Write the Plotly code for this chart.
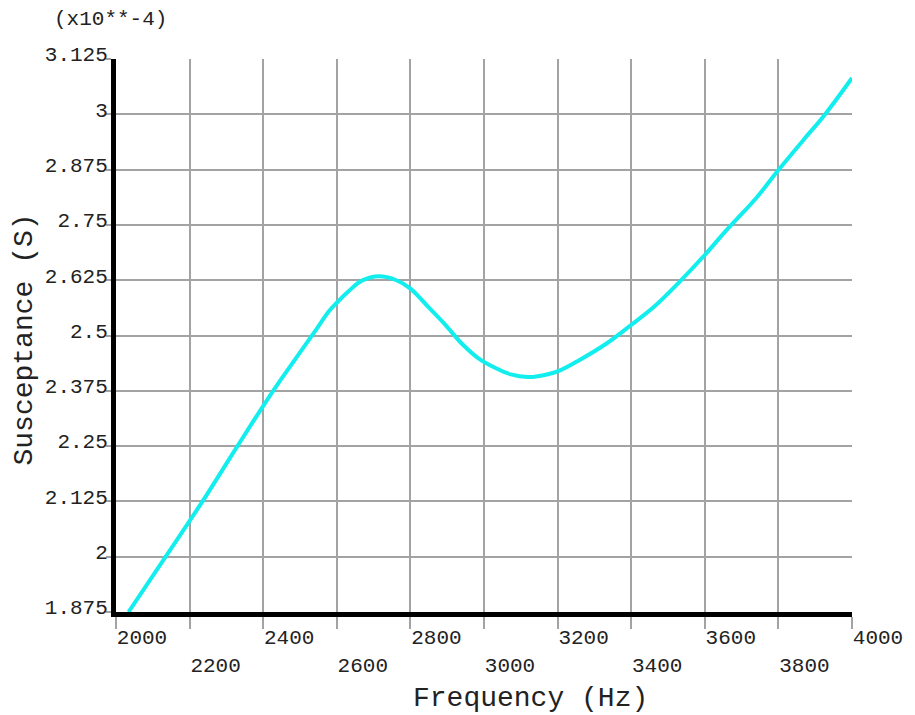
import plotly.graph_objects as go

# ---- data ----
freq_hz = [2034, 2135, 2235, 2330, 2427, 2490, 2541, 2578, 2600, 2632, 2668, 2714,
           2759, 2800, 2849, 2895, 2938, 2984, 3030, 3073, 3119, 3146, 3200, 3254,
           3335, 3400, 3462, 3532, 3600, 3659, 3741, 3800, 3868, 3925, 4000]
susceptance = [1.875, 2.000, 2.125, 2.250, 2.375, 2.450, 2.510, 2.554, 2.574, 2.600,
               2.624, 2.634, 2.626, 2.606, 2.564, 2.524, 2.483, 2.449, 2.427, 2.412,
               2.406, 2.408, 2.419, 2.442, 2.483, 2.524, 2.565, 2.622, 2.682, 2.738,
               2.812, 2.874, 2.942, 2.998, 3.082]

x_ticks_upper = [2000, 2400, 2800, 3200, 3600, 4000]
x_ticks_lower = [2200, 2600, 3000, 3400, 3800]
x_grid = [2000, 2200, 2400, 2600, 2800, 3000, 3200, 3400, 3600, 3800, 4000]
y_ticks = [1.875, 2.0, 2.125, 2.25, 2.375, 2.5, 2.625, 2.75, 2.875, 3.0, 3.125]
y_tick_text = ["1.875", "2", "2.125", "2.25", "2.375", "2.5", "2.625", "2.75",
               "2.875", "3", "3.125"]

x_title = "Frequency (Hz)"
y_title = "Susceptance (S)"
scale_note = "(x10**-4)"

# ---- layout constants ----
W, H = 915, 715
L, R, T, B = 116, 59, 59, 103
PW, PH = W - L - R, H - T - B
FONT = "Liberation Mono, Courier New, monospace"
GRID = "#a3a3a3"
TXT = "#222222"


def px_x(px):
    return (px - L) / PW


def px_y(py):
    return (H - B - py) / PH


fig = go.Figure()
fig.add_trace(go.Scatter(
    x=freq_hz, y=susceptance, mode="lines",
    line=dict(color="#12eeee", width=4, shape="spline", smoothing=1.0),
    showlegend=False, hoverinfo="x+y",
))
# invisible trace to activate the second x axis (lower row of tick labels)
fig.add_trace(go.Scatter(x=[x_grid[0], x_grid[-1]], y=[y_ticks[0], y_ticks[0]],
                         xaxis="x2", mode="lines", line=dict(width=0),
                         showlegend=False, hoverinfo="skip", opacity=0))

upper_text = [str(v) if v in x_ticks_upper else "" for v in x_grid]

fig.update_layout(
    width=W, height=H,
    margin=dict(l=L, r=R, t=T, b=B, pad=0),
    paper_bgcolor="white", plot_bgcolor="white",
    font=dict(family=FONT, color=TXT),
    xaxis=dict(
        range=[x_grid[0], x_grid[-1]], tickmode="array", tickvals=x_grid,
        ticktext=upper_text, showgrid=True, gridcolor=GRID, gridwidth=1.5,
        ticks="outside", ticklen=12, tickcolor=GRID, tickwidth=1.5,
        showline=True, linecolor="black", linewidth=5, zeroline=False,
        ticklabelshift=26, ticklabelstandoff=-10,
        tickfont=dict(family=FONT, size=21, color=TXT),
    ),
    xaxis2=dict(
        overlaying="x", side="bottom", anchor="y",
        range=[x_grid[0], x_grid[-1]], tickmode="array", tickvals=x_ticks_lower,
        ticktext=[str(v) for v in x_ticks_lower], showgrid=False, zeroline=False,
        showline=False, ticks="", ticklabelshift=26, ticklabelstandoff=38,
        tickfont=dict(family=FONT, size=21, color=TXT),
    ),
    yaxis=dict(
        range=[y_ticks[0], y_ticks[-1]], tickmode="array", tickvals=y_ticks,
        ticktext=y_tick_text, showgrid=True, gridcolor=GRID, gridwidth=1.5,
        ticks="outside", ticklen=5, tickcolor=GRID, tickwidth=1.5,
        showline=True, linecolor="black", linewidth=5, zeroline=False,
        ticklabelshift=-5, ticklabelstandoff=-6,
        tickfont=dict(family=FONT, size=21, color=TXT),
    ),
    annotations=[
        dict(text=scale_note, xref="paper", yref="paper", x=px_x(52), y=px_y(20),
             xanchor="left", yanchor="middle", showarrow=False,
             font=dict(family=FONT, size=21, color=TXT)),
        dict(text=x_title, xref="paper", yref="paper", x=px_x(533), y=px_y(698),
             xanchor="center", yanchor="middle", showarrow=False,
             font=dict(family=FONT, size=28, color=TXT)),
        dict(text=y_title, xref="paper", yref="paper", x=px_x(23), y=px_y(340),
             xanchor="center", yanchor="middle", showarrow=False, textangle=-90,
             font=dict(family=FONT, size=28, color=TXT)),
    ],
)

fig.write_html("out.html")
